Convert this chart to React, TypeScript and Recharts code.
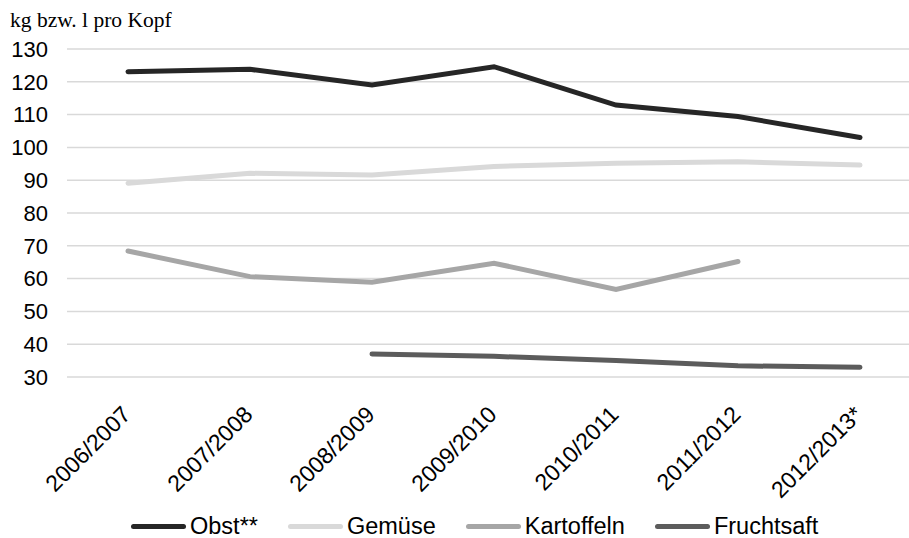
import React from "react";
import { LineChart, Line, XAxis, YAxis, CartesianGrid, Legend } from "recharts";

// Pro-Kopf-Verbrauch (kg bzw. l) nach Wirtschaftsjahr
const years = ["2006/2007", "2007/2008", "2008/2009", "2009/2010", "2010/2011", "2011/2012", "2012/2013*"];
const obst = [123.1, 123.8, 119.0, 124.6, 112.9, 109.4, 103.0];
const gemuese = [89.1, 92.1, 91.6, 94.2, 95.2, 95.6, 94.6];
const kartoffeln: (number | null)[] = [68.4, 60.6, 58.9, 64.7, 56.7, 65.2, null];
const fruchtsaft: (number | null)[] = [null, null, 37.0, 36.3, 35.0, 33.4, 33.0];
const yTicks = [30, 40, 50, 60, 70, 80, 90, 100, 110, 120, 130];

const data = years.map((year, i) => ({
  year,
  obst: obst[i],
  gemuese: gemuese[i],
  kartoffeln: kartoffeln[i],
  fruchtsaft: fruchtsaft[i],
}));

const SANS = "'Liberation Sans', Arial, sans-serif";

const series = [
  { key: "obst", name: "Obst**", color: "#262626" },
  { key: "gemuese", name: "Gemüse", color: "#d9d9d9" },
  { key: "kartoffeln", name: "Kartoffeln", color: "#a6a6a6" },
  { key: "fruchtsaft", name: "Fruchtsaft", color: "#5c5c5c" },
];
const seriesOrder = series.map((s) => s.name);

const YearTick = (props: any) => {
  const { x, y, payload } = props;
  return (
    <g transform={`translate(${x + 4},${y + 31})`}>
      <text
        transform="rotate(-45)"
        textAnchor="end"
        fontFamily={SANS}
        fontSize={23}
        fill="#000"
      >
        {payload.value}
      </text>
    </g>
  );
};

const LegendContent = (props: any) => {
  const items = [...(props.payload || [])].sort(
    (a: any, b: any) => seriesOrder.indexOf(a.value) - seriesOrder.indexOf(b.value)
  );
  return (
    <div style={{ display: "flex", alignItems: "center", paddingLeft: 131, fontFamily: SANS, fontSize: 23.5, color: "#000" }}>
      {items.map((entry: any, i: number) => (
        <div key={i} style={{ display: "flex", alignItems: "center", marginRight: 30 }}>
          <div style={{ width: 55, height: 5, borderRadius: 3, background: entry.color, marginRight: 4 }} />
          <span>{entry.value}</span>
        </div>
      ))}
    </div>
  );
};

export default function App() {
  return (
    <div style={{ position: "absolute", left: 0, top: 0, width: 909, height: 538, background: "#fff" }}>
      <div
        style={{
          position: "absolute",
          left: 10,
          top: 10,
          fontFamily: "'Liberation Serif', 'Times New Roman', serif",
          fontSize: 21.5,
          lineHeight: "21px",
          color: "#000",
          whiteSpace: "nowrap",
        }}
      >
        kg bzw. l pro Kopf
      </div>
      <LineChart width={909} height={538} data={data} margin={{ top: 49, right: 0, bottom: 0, left: 0 }}>
        <CartesianGrid vertical={false} stroke="#d9d9d9" strokeWidth={1.5} />
        <XAxis
          dataKey="year"
          height={161}
          axisLine={false}
          tickLine={false}
          interval={0}
          padding={{ left: 61, right: 49 }}
          tick={<YearTick />}
        />
        <YAxis
          width={67}
          domain={[30, 130]}
          ticks={yTicks}
          axisLine={false}
          tickLine={false}
          tickSize={0}
          tickMargin={19}
          tick={{ fontFamily: SANS, fontSize: 22, fill: "#000" }}
        />
        <Legend
          verticalAlign="middle"
          align="center"
          layout="horizontal"
          wrapperStyle={{ top: 513, left: 0, width: 909 }}
          content={<LegendContent />}
        />
        {series.map((s) => (
          <Line
            key={s.key}
            type="linear"
            dataKey={s.key}
            name={s.name}
            stroke={s.color}
            strokeWidth={5}
            strokeLinecap="round"
            dot={false}
            activeDot={false}
            connectNulls={false}
            isAnimationActive={false}
          />
        ))}
      </LineChart>
    </div>
  );
}
